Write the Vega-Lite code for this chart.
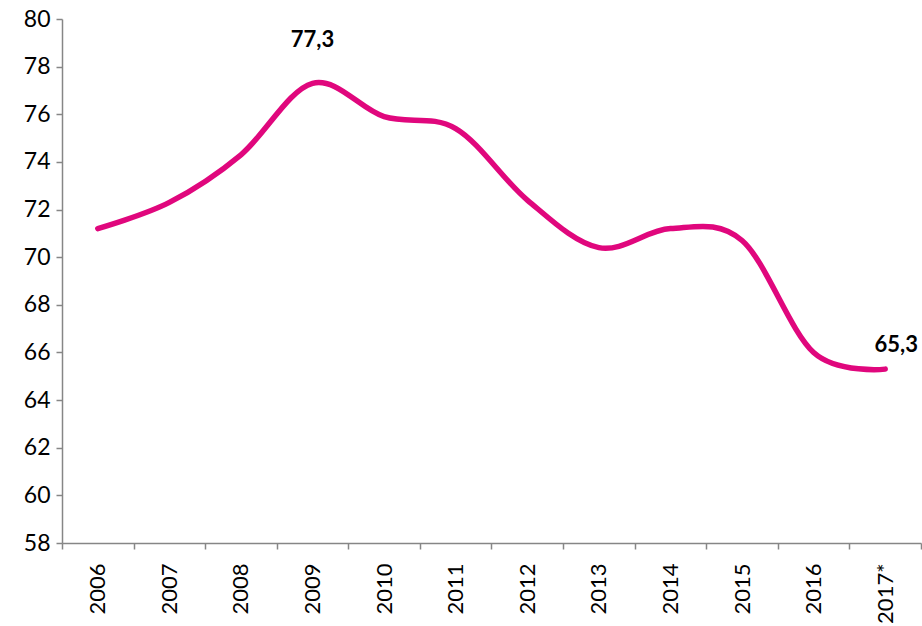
{
  "$schema": "https://vega.github.io/schema/vega-lite/v6.json",
  "autosize": "none",
  "width": 859,
  "height": 524,
  "padding": {"left": 62, "top": 19, "right": 1, "bottom": 83},
  "background": "white",
  "config": {
    "view": {"stroke": null},
    "font": "Lato",
    "locale": {"number": {"decimal": ",", "thousands": " ", "grouping": [3], "currency": ["", ""]}}
  },
  "data": {
    "values": [
      {"year": "2006", "value": 71.2},
      {"year": "2007", "value": 72.3},
      {"year": "2008", "value": 74.3},
      {"year": "2009", "value": 77.3},
      {"year": "2010", "value": 75.9},
      {"year": "2011", "value": 75.4},
      {"year": "2012", "value": 72.4},
      {"year": "2013", "value": 70.4},
      {"year": "2014", "value": 71.2},
      {"year": "2015", "value": 70.7},
      {"year": "2016", "value": 66.0},
      {"year": "2017*", "value": 65.3}
    ]
  },
  "encoding": {
    "x": {
      "field": "year",
      "type": "ordinal",
      "sort": null,
      "bandPosition": 0.5,
      "scale": {"type": "band", "paddingInner": 0, "paddingOuter": 0},
      "axis": {
        "title": null,
        "tickBand": "extent",
        "labelAngle": -90,
        "labelAlign": "right",
        "labelBaseline": "middle",
        "labelFont": "Lato",
        "labelFontSize": 22,
        "labelColor": "#000000",
        "labelPadding": 14,
        "domainColor": "#868686",
        "domainWidth": 1.5,
        "tickColor": "#868686",
        "tickWidth": 1.5,
        "tickSize": 6,
        "grid": false
      }
    },
    "y": {
      "field": "value",
      "type": "quantitative",
      "scale": {"domain": [58, 80], "nice": false, "zero": false},
      "axis": {
        "title": null,
        "values": [58, 60, 62, 64, 66, 68, 70, 72, 74, 76, 78, 80],
        "labelFont": "Lato",
        "labelFontSize": 23,
        "labelColor": "#000000",
        "labelPadding": 6,
        "domainColor": "#868686",
        "domainWidth": 1.5,
        "tickColor": "#868686",
        "tickWidth": 1.5,
        "tickSize": 6,
        "grid": false
      }
    }
  },
  "layer": [
    {
      "mark": {"type": "line", "interpolate": "cardinal", "color": "#E0077D", "strokeWidth": 5.5, "strokeCap": "round"}
    },
    {
      "transform": [{"filter": "datum.year === '2009'"}],
      "mark": {"type": "text", "fontWeight": "bold", "fontSize": 22, "font": "Lato", "color": "#000000", "dy": -43, "baseline": "middle", "align": "center"},
      "encoding": {"text": {"field": "value", "type": "quantitative", "format": ".1f"}}
    },
    {
      "transform": [{"filter": "datum.year === '2017*'"}],
      "mark": {"type": "text", "fontWeight": "bold", "fontSize": 22, "font": "Lato", "color": "#000000", "dy": -24, "dx": 11, "baseline": "middle", "align": "center"},
      "encoding": {"text": {"field": "value", "type": "quantitative", "format": ".1f"}}
    }
  ]
}
